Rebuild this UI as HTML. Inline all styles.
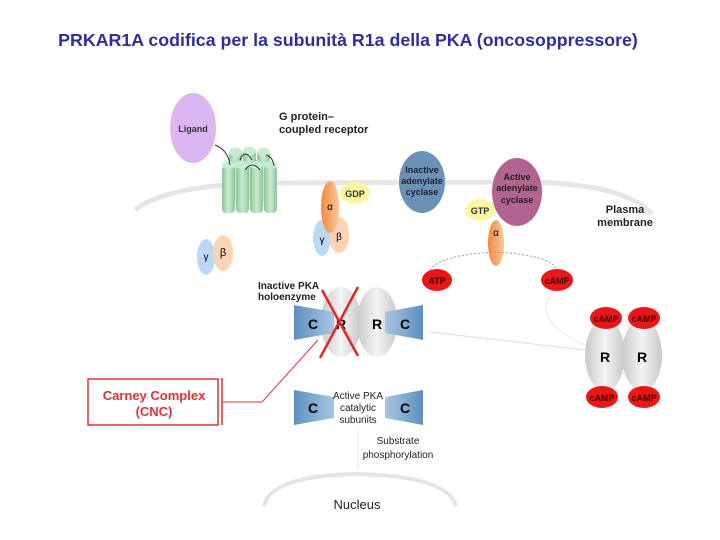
<!DOCTYPE html>
<html><head><meta charset="utf-8"><style>
html,body{margin:0;padding:0;background:#fff}
svg{display:block}
text{font-family:"Liberation Sans",sans-serif}
</style></head><body>
<svg width="720" height="540" viewBox="0 0 720 540" xmlns="http://www.w3.org/2000/svg">
<defs>
<linearGradient id="cyl" x1="0" x2="1"><stop offset="0" stop-color="#8fc49a"/><stop offset=".5" stop-color="#c8ecd0"/><stop offset="1" stop-color="#8fc49a"/></linearGradient>
<linearGradient id="gr" x1="0" x2="1"><stop offset="0" stop-color="#c8c8c8"/><stop offset=".5" stop-color="#f4f4f4"/><stop offset="1" stop-color="#c8c8c8"/></linearGradient>
<linearGradient id="cb" x1="0" x2="1"><stop offset="0" stop-color="#5f8fbf"/><stop offset="1" stop-color="#a9c6e0"/></linearGradient>
<linearGradient id="cb2" x1="1" x2="0"><stop offset="0" stop-color="#5f8fbf"/><stop offset="1" stop-color="#a9c6e0"/></linearGradient>
<linearGradient id="or" x1="0" x2="1"><stop offset="0" stop-color="#f08a40"/><stop offset="1" stop-color="#fbc79a"/></linearGradient>
</defs>
<text x="348" y="46" text-anchor="middle" font-size="17.8" font-weight="bold" fill="#2e2e9a">PRKAR1A codifica per la subunità R1a della PKA (oncosoppressore)</text>
<!-- membrane -->
<path d="M135 210 Q165 186 260 183 L530 182 Q625 184 652 214" fill="none" stroke="#e6e6e6" stroke-width="5"/>
<!-- ligand -->
<ellipse cx="193" cy="128" rx="23" ry="35" fill="#dcb6f2"/>
<text x="193" y="132" text-anchor="middle" font-size="9" font-weight="bold" fill="#333">Ligand</text>
<text x="279" y="120" font-size="11" font-weight="bold" fill="#222">G protein–</text>
<text x="279" y="133" font-size="11" font-weight="bold" fill="#222">coupled receptor</text>
<!-- GPCR -->
<g>
<rect x="229" y="152" width="13" height="50" fill="url(#cyl)"/><ellipse cx="235.5" cy="152" rx="6.5" ry="4.5" fill="#c8ecd0"/>
<rect x="243" y="151" width="13" height="50" fill="url(#cyl)"/><ellipse cx="249.5" cy="151" rx="6.5" ry="4.5" fill="#c8ecd0"/>
<rect x="257" y="152" width="13" height="50" fill="url(#cyl)"/><ellipse cx="263.5" cy="152" rx="6.5" ry="4.5" fill="#c8ecd0"/>
<rect x="222" y="165" width="13" height="48" rx="4" fill="url(#cyl)"/><ellipse cx="228.5" cy="165" rx="6.5" ry="4" fill="#c8ecd0"/>
<rect x="236" y="165" width="13" height="48" rx="4" fill="url(#cyl)"/><ellipse cx="242.5" cy="165" rx="6.5" ry="4" fill="#c8ecd0"/>
<rect x="250" y="165" width="13" height="48" rx="4" fill="url(#cyl)"/><ellipse cx="256.5" cy="165" rx="6.5" ry="4" fill="#c8ecd0"/>
<rect x="264" y="165" width="13" height="48" rx="4" fill="url(#cyl)"/><ellipse cx="270.5" cy="165" rx="6.5" ry="4" fill="#c8ecd0"/>
<path d="M215 145 Q228 150 230 165 M240 160 Q245 148 252 160 M245 170 Q252 160 260 170 M266 155 Q273 157 274 166" fill="none" stroke="#333" stroke-width="1"/>
</g>
<!-- G protein inactive -->
<ellipse cx="206" cy="257" rx="9" ry="18" fill="#bcd8f2"/>
<ellipse cx="223" cy="253" rx="10" ry="18" fill="#fbd4b4"/>
<text x="206" y="260" text-anchor="middle" font-size="10">γ</text><text x="223" y="256" text-anchor="middle" font-size="11">β</text>
<ellipse cx="322" cy="238" rx="9" ry="18" fill="#bcd8f2"/>
<ellipse cx="339" cy="235" rx="10" ry="18" fill="#fbd4b4"/>
<ellipse cx="330" cy="207" rx="9" ry="26" fill="url(#or)"/>
<text x="330" y="210" text-anchor="middle" font-size="10">α</text>
<text x="322" y="243" text-anchor="middle" font-size="10">γ</text><text x="339" y="240" text-anchor="middle" font-size="10">β</text>
<ellipse cx="355" cy="193" rx="15" ry="11" fill="#fbf7a0"/>
<text x="355" y="197" text-anchor="middle" font-size="9" font-weight="bold" fill="#333">GDP</text>
<!-- adenylate cyclases -->
<ellipse cx="422" cy="182" rx="23" ry="31" fill="#6a92b6"/>
<text x="422" y="173" text-anchor="middle" font-size="9" font-weight="bold" fill="#223">Inactive</text>
<text x="422" y="184" text-anchor="middle" font-size="9" font-weight="bold" fill="#223">adenylate</text>
<text x="422" y="195" text-anchor="middle" font-size="9" font-weight="bold" fill="#223">cyclase</text>
<ellipse cx="517" cy="192" rx="25" ry="34" fill="#b3638f"/>
<text x="517" y="180" text-anchor="middle" font-size="9" font-weight="bold" fill="#222">Active</text>
<text x="517" y="191" text-anchor="middle" font-size="9" font-weight="bold" fill="#222">adenylate</text>
<text x="517" y="203" text-anchor="middle" font-size="9" font-weight="bold" fill="#222">cyclase</text>
<ellipse cx="480" cy="210" rx="15" ry="11" fill="#fbf7a0"/>
<text x="480" y="214" text-anchor="middle" font-size="9" font-weight="bold" fill="#333">GTP</text>
<ellipse cx="496" cy="243" rx="8" ry="23" fill="url(#or)"/>
<text x="496" y="236" text-anchor="middle" font-size="10">α</text>
<text x="625" y="213" text-anchor="middle" font-size="11" font-weight="bold" fill="#222">Plasma</text>
<text x="625" y="226" text-anchor="middle" font-size="11" font-weight="bold" fill="#222">membrane</text>
<path d="M430 270 Q440 255 495 252 Q548 255 556 268" fill="none" stroke="#999" stroke-width="1" stroke-dasharray="2,2"/>
<ellipse cx="437" cy="280" rx="15" ry="11" fill="#e81818"/>
<text x="437" y="284" text-anchor="middle" font-size="9" font-weight="bold" fill="#400">ATP</text>
<ellipse cx="557" cy="280" rx="16" ry="11" fill="#e81818"/>
<text x="557" y="284" text-anchor="middle" font-size="9" font-weight="bold" fill="#400">cAMP</text>
<path d="M552 292 Q530 320 585 345" fill="none" stroke="#e8e8e8" stroke-width="1"/>
<line x1="430" y1="332" x2="585" y2="350" stroke="#ddd" stroke-width="1"/>
<!-- R dimer -->
<ellipse cx="605" cy="355" rx="20" ry="36" fill="url(#gr)"/>
<ellipse cx="642" cy="355" rx="20" ry="36" fill="url(#gr)"/>
<text x="605" y="362" text-anchor="middle" font-size="14" font-weight="bold">R</text>
<text x="642" y="362" text-anchor="middle" font-size="14" font-weight="bold">R</text>
<g font-size="9" font-weight="bold" fill="#400" text-anchor="middle">
<ellipse cx="606" cy="318" rx="16" ry="11" fill="#e81818"/><text x="606" y="322">cAMP</text>
<ellipse cx="644" cy="318" rx="16" ry="11" fill="#e81818"/><text x="644" y="322">cAMP</text>
<ellipse cx="602" cy="397" rx="16" ry="11" fill="#e81818"/><text x="602" y="401">cAMP</text>
<ellipse cx="644" cy="397" rx="16" ry="11" fill="#e81818"/><text x="644" y="401">cAMP</text>
</g>
<!-- holoenzyme -->
<text x="258" y="289" font-size="10" font-weight="bold" fill="#222">Inactive PKA</text>
<text x="258" y="300" font-size="10" font-weight="bold" fill="#222">holoenzyme</text>
<ellipse cx="341" cy="322" rx="20" ry="35" fill="url(#gr)"/>
<ellipse cx="377" cy="322" rx="20" ry="35" fill="url(#gr)"/>
<path d="M294 305 L334 312 L334 333 L294 340Z" fill="url(#cb)"/>
<path d="M423 305 L385 312 L385 333 L423 340Z" fill="url(#cb2)"/>
<text x="313" y="329" text-anchor="middle" font-size="14" font-weight="bold">C</text>
<text x="341" y="329" text-anchor="middle" font-size="14" font-weight="bold">R</text>
<text x="377" y="329" text-anchor="middle" font-size="14" font-weight="bold">R</text>
<text x="405" y="329" text-anchor="middle" font-size="14" font-weight="bold">C</text>
<path d="M322 290 L358 356 M358 287 L320 358" stroke="#e02828" stroke-width="2.5" fill="none"/>
<!-- CNC -->
<rect x="88" y="379" width="130" height="46" fill="#fff" stroke="#d33" stroke-width="1.5"/>
<line x1="222" y1="378" x2="222" y2="425" stroke="#d33" stroke-width="1.5"/>
<path d="M222 402 L262 402 L318 340" fill="none" stroke="#d33" stroke-width="1"/>
<text x="154" y="400" text-anchor="middle" font-size="13" font-weight="bold" fill="#d33">Carney Complex</text>
<text x="154" y="416" text-anchor="middle" font-size="13" font-weight="bold" fill="#d33">(CNC)</text>
<!-- active C -->
<path d="M294 390 L334 397 L334 418 L294 425Z" fill="url(#cb)"/>
<path d="M423 390 L385 397 L385 418 L423 425Z" fill="url(#cb2)"/>
<text x="313" y="413" text-anchor="middle" font-size="14" font-weight="bold">C</text>
<text x="405" y="413" text-anchor="middle" font-size="14" font-weight="bold">C</text>
<text x="358" y="399" text-anchor="middle" font-size="10" fill="#222">Active PKA</text>
<text x="358" y="411" text-anchor="middle" font-size="10" fill="#222">catalytic</text>
<text x="358" y="423" text-anchor="middle" font-size="10" fill="#222">subunits</text>
<line x1="358" y1="430" x2="358" y2="470" stroke="#e6e6e6"/>
<text x="398" y="444" text-anchor="middle" font-size="10" fill="#222">Substrate</text>
<text x="398" y="458" text-anchor="middle" font-size="10" fill="#222">phosphorylation</text>
<path d="M264 506 Q270 476 356 474 Q448 476 456 506" fill="none" stroke="#e4e4e4" stroke-width="4"/>
<text x="357" y="509" text-anchor="middle" font-size="13" fill="#222">Nucleus</text>
</svg>
</body></html>
